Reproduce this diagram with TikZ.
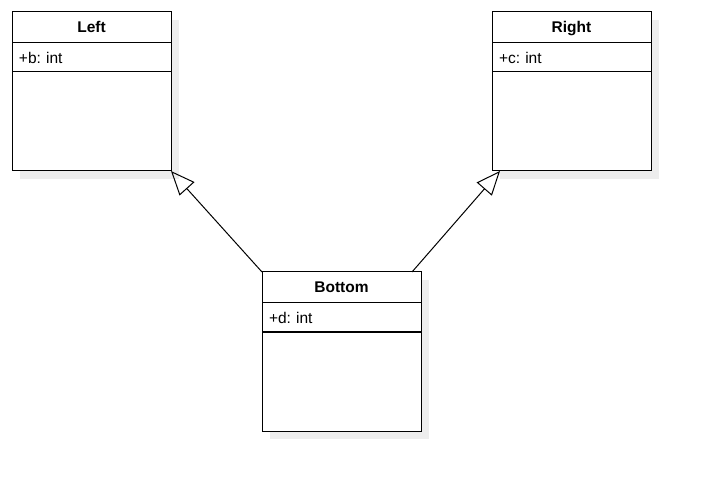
\documentclass[tikz,border=0pt]{standalone}
\usepackage{fontspec}
\setmainfont{Liberation Sans}
\usetikzlibrary{arrows.meta,positioning,shadows}
\frenchspacing

\begin{document}
\begin{tikzpicture}[x=1pt, y=-1pt, node distance=0pt, line width=1pt]
    \tikzstyle{part_style} = [draw=black, fill=white, minimum width=159pt, outer sep=0pt, inner sep=0pt, drop shadow={shadow xshift=8pt, shadow yshift=-8pt, opacity=1, fill=black!7}]
    \tikzstyle{head_style} = [part_style, minimum height=31pt, text depth=1pt, font=\fontsize{15.5}{18}\selectfont\bfseries]
    \tikzstyle{attr_style} = [part_style, minimum height=29pt, text width=145pt, inner xsep=7pt, align=left, font=\fontsize{15.5}{18}\selectfont]
    \tikzstyle{body_style} = [part_style, minimum height=99pt]
    \tikzstyle{edge_style} = [draw=black, line width=1pt, -{Triangle[open, length=24pt, width=20pt]}]
    \useasboundingbox (0,0) rectangle (702,481);

    % Left
    \node[head_style, anchor=north west] (left_head) at (12,12) {Left};
    \node[attr_style, below=of left_head] (left_attr) {+b: int};
    \node[body_style, below=of left_attr] (left_body) {};

    % Right
    \node[head_style, anchor=north west] (right_head) at (492,12) {Right};
    \node[attr_style, below=of right_head] (right_attr) {+c: int};
    \node[body_style, below=of right_attr] (right_body) {};

    % Bottom
    \node[head_style, anchor=north west] (bottom_head) at (262,272) {Bottom};
    \node[attr_style, below=of bottom_head] (bottom_attr) {+d: int};
    \node[body_style, below=of bottom_attr] (bottom_body) {};

    \draw[edge_style] (bottom_head.north west) -- (left_body.south east);
    \draw[edge_style] ([xshift=-9pt]bottom_head.north east) -- ([xshift=8pt]right_body.south west);
\end{tikzpicture}
\end{document}
